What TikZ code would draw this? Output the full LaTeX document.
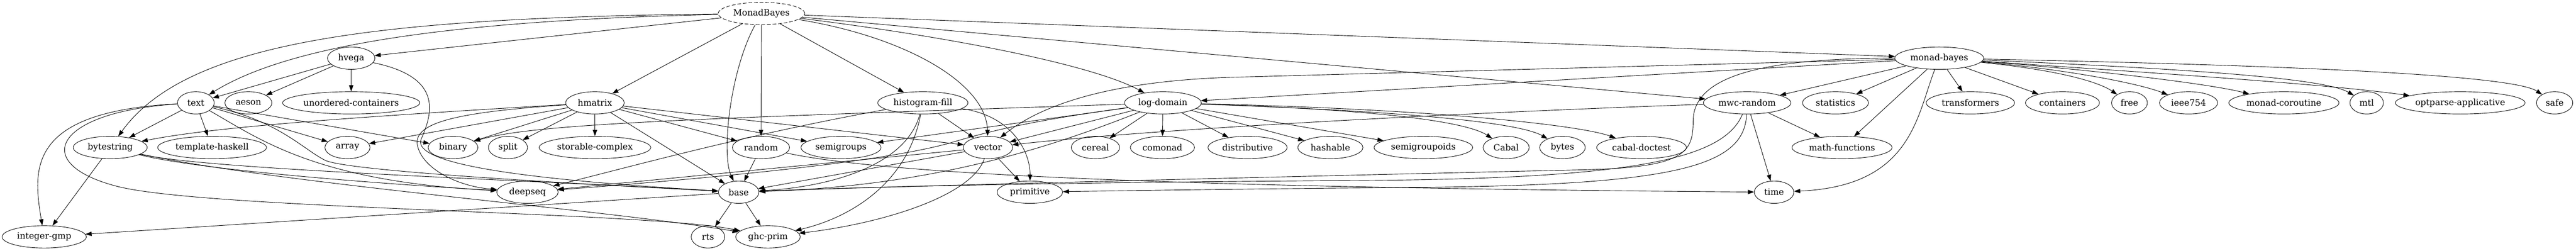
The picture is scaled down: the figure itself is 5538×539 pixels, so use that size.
\documentclass[tikz,border=0pt]{standalone}
\usepackage{fontspec}
\setmainfont{DejaVu Serif}
\usetikzlibrary{shapes.geometric,arrows.meta}

\begin{document}
\begin{tikzpicture}[x=0.75pt,y=-0.75pt,
  pkg/.style={draw, ellipse, line width=0.75pt, inner sep=0pt, minimum height=36pt, font=\fontsize{14pt}{16pt}\selectfont},
  rootpkg/.style={pkg, dash pattern=on 6pt off 3pt},
  dep/.style={line width=0.75pt, -{Triangle[length=10pt,width=7pt]}}]

\useasboundingbox (0,0) rectangle (5538,539);

 % rank 0 and 1
 \node[rootpkg, minimum width=139.5pt] (MonadBayes) at (1637,29) {MonadBayes};
 \node[pkg, minimum width=76.5pt] (hvega) at (755,125) {hvega};
 \node[pkg, minimum width=143.25pt] (monadbayes) at (4169,125) {monad-bayes};

 % rank 2
 \node[pkg, minimum width=59.25pt] (text) at (421,221) {text};
 \node[pkg, minimum width=75.75pt] (aeson) at (534,221) {aeson};
 \node[pkg, minimum width=221.25pt] (unordered) at (755,221) {unordered-containers};
 \node[pkg, minimum width=94.5pt] (hmatrix) at (1279,221) {hmatrix};
 \node[pkg, minimum width=145.5pt] (histogram) at (1984,221) {histogram-fill};
 \node[pkg, minimum width=123.75pt] (logdomain) at (2500,221) {log-domain};
 \node[pkg, minimum width=141pt] (mwcrandom) at (3756,221) {mwc-random};
 \node[pkg, minimum width=106.5pt] (statistics) at (3946,221) {statistics};
 \node[pkg, minimum width=142.5pt] (transformers) at (4236,221) {transformers};
 \node[pkg, minimum width=119.25pt] (containers) at (4434,221) {containers};
 \node[pkg, minimum width=57.75pt] (free) at (4578,221) {free};
 \node[pkg, minimum width=93.75pt] (ieee) at (4705,221) {ieee754};
 \node[pkg, minimum width=177.75pt] (coroutine) at (4910,221) {monad-coroutine};
 \node[pkg, minimum width=54pt] (mtl) at (5088,221) {mtl};
 \node[pkg, minimum width=209.25pt] (optparse) at (5289,221) {optparse-applicative};
 \node[pkg, minimum width=58.5pt] (safe) at (5492,221) {safe};

 % rank 3
 \node[pkg, minimum width=119.25pt] (bytestring) at (237,317) {bytestring};
 \node[pkg, minimum width=175.5pt] (template) at (456,317) {template-haskell};
 \node[pkg, minimum width=72.75pt] (array) at (747,317) {array};
 \node[pkg, minimum width=80.25pt] (binary) at (974,317) {binary};
 \node[pkg, minimum width=63pt] (split) at (1092,317) {split};
 \node[pkg, minimum width=180pt] (storable) at (1279,317) {storable-complex};
 \node[pkg, minimum width=92.25pt] (random) at (1636,317) {random};
 \node[pkg, minimum width=129pt] (semigroups) at (1808,317) {semigroups};
 \node[pkg, minimum width=79.5pt] (vector) at (2124,317) {vector};
 \node[pkg, minimum width=78pt] (cereal) at (2355,317) {cereal};
 \node[pkg, minimum width=103.5pt] (comonad) at (2499,317) {comonad};
 \node[pkg, minimum width=127.5pt] (distributive) at (2682,317) {distributive};
 \node[pkg, minimum width=105pt] (hashable) at (2860,317) {hashable};
 \node[pkg, minimum width=159pt] (semigroupoids) at (3060,317) {semigroupoids};
 \node[pkg, minimum width=74.25pt] (Cabal) at (3238,317) {Cabal};
 \node[pkg, minimum width=73.5pt] (bytes) at (3359,317) {bytes};
 \node[pkg, minimum width=144.75pt] (cabaldoctest) at (3529,317) {cabal-doctest};
 \node[pkg, minimum width=161.25pt] (mathfunctions) at (3960,317) {math-functions};

 % rank 4 and 5
 \node[pkg, minimum width=99pt] (deepseq) at (1134,413) {deepseq};
 \node[pkg, minimum width=65.25pt] (base) at (1588,413) {base};
 \node[pkg, minimum width=105.75pt] (primitive) at (2214,413) {primitive};
 \node[pkg, minimum width=63.75pt] (time) at (3814,413) {time};
 \node[pkg, minimum width=135.75pt] (integer) at (95,509) {integer-gmp};
 \node[pkg, minimum width=54pt] (rts) at (1522,509) {rts};
 \node[pkg, minimum width=104.25pt] (ghcprim) at (1651,509) {ghc-prim};

 % MonadBayes
 \draw[dep] (MonadBayes) -- (hvega);
 \draw[dep] (MonadBayes) .. controls (900,45) and (600,110) .. (text);
 \draw[dep] (MonadBayes) .. controls (800,38) and (400,90) .. (bytestring);
 \draw[dep] (MonadBayes) -- (hmatrix);
 \draw[dep] (MonadBayes) .. controls (1570,150) and (1550,330) .. (base);
 \draw[dep] (MonadBayes) -- (random);
 \draw[dep] (MonadBayes) -- (histogram);
 \draw[dep] (MonadBayes) .. controls (1950,80) and (2120,180) .. (vector);
 \draw[dep] (MonadBayes) .. controls (2050,80) and (2350,140) .. (logdomain);
 \draw[dep] (MonadBayes) -- (mwcrandom);
 \draw[dep] (MonadBayes) -- (monadbayes);

 % hvega
 \draw[dep] (hvega) -- (text);
 \draw[dep] (hvega) -- (aeson);
 \draw[dep] (hvega) -- (unordered);
 \draw[dep] (hvega) .. controls (950,165) and (932,240) .. (905,300) .. controls (885,360) and (1200,390) .. (base);

 % text
 \draw[dep] (text) -- (bytestring);
 \draw[dep] (text) -- (template);
 \draw[dep] (text) -- (array);
 \draw[dep] (text) -- (binary);
 \draw[dep] (text) .. controls (560,300) and (680,390) .. (deepseq);
 \draw[dep] (text) .. controls (600,260) and (650,320) .. (700,345) .. controls (760,370) and (1300,398) .. (base);
 \draw[dep] (text) .. controls (60,240) and (70,360) .. (integer);
 \draw[dep] (text) .. controls (120,240) and (60,350) .. (250,400) .. controls (440,450) and (1400,455) .. (ghcprim);

 % bytestring
 \draw[dep] (bytestring) -- (integer);
 \draw[dep] (bytestring) .. controls (450,370) and (900,400) .. (deepseq);
 \draw[dep] (bytestring) .. controls (450,365) and (1100,385) .. (base);
 \draw[dep] (bytestring) .. controls (600,395) and (1300,450) .. (ghcprim);

 % hmatrix
 \draw[dep] (hmatrix) .. controls (700,255) and (450,275) .. (bytestring);
 \draw[dep] (hmatrix) .. controls (1000,240) and (890,260) .. (897,310) .. controls (905,360) and (980,400) .. (deepseq);
 \draw[dep] (hmatrix) -- (array);
 \draw[dep] (hmatrix) -- (binary);
 \draw[dep] (hmatrix) -- (split);
 \draw[dep] (hmatrix) -- (storable);
 \draw[dep] (hmatrix) -- (base);
 \draw[dep] (hmatrix) -- (random);
 \draw[dep] (hmatrix) -- (semigroups);
 \draw[dep] (hmatrix) -- (vector);

 % histogram-fill
 \draw[dep] (histogram) .. controls (1600,290) and (1350,360) .. (deepseq);
 \draw[dep] (histogram) .. controls (1950,350) and (1800,400) .. (base);
 \draw[dep] (histogram) .. controls (1950,400) and (1820,470) .. (ghcprim);
 \draw[dep] (histogram) -- (vector);
 \draw[dep] (histogram) .. controls (2180,250) and (2215,330) .. (primitive);

 % log-domain
 \draw[dep] (logdomain) .. controls (1500,255) and (1150,265) .. (binary);
 \draw[dep] (logdomain) -- (semigroups);
 \draw[dep] (logdomain) .. controls (2250,255) and (2150,275) .. (2050,305) .. controls (1900,350) and (1500,385) .. (deepseq);
 \draw[dep] (logdomain) -- (vector);
 \draw[dep] (logdomain) .. controls (2250,320) and (2000,400) .. (base);
 \draw[dep] (logdomain) -- (cereal);
 \draw[dep] (logdomain) -- (comonad);
 \draw[dep] (logdomain) -- (distributive);
 \draw[dep] (logdomain) -- (hashable);
 \draw[dep] (logdomain) -- (semigroupoids);
 \draw[dep] (logdomain) .. controls (2950,235) and (3150,260) .. (Cabal);
 \draw[dep] (logdomain) .. controls (3050,240) and (3270,265) .. (bytes);
 \draw[dep] (logdomain) .. controls (3100,235) and (3400,270) .. (cabaldoctest);

 % vector, random, base
 \draw[dep] (vector) -- (deepseq);
 \draw[dep] (vector) -- (base);
 \draw[dep] (vector) -- (primitive);
 \draw[dep] (vector) .. controls (2090,420) and (1900,480) .. (ghcprim);
 \draw[dep] (random) -- (base);
 \draw[dep] (random) .. controls (1950,385) and (2800,405) .. (time);
 \draw[dep] (base) -- (rts);
 \draw[dep] (base) -- (ghcprim);
 \draw[dep] (base) -- (integer);

 % mwc-random
 \draw[dep] (mwcrandom) .. controls (3200,240) and (2500,275) .. (vector);
 \draw[dep] (mwcrandom) -- (mathfunctions);
 \draw[dep] (mwcrandom) -- (time);
 \draw[dep] (mwcrandom) .. controls (3705,345) and (3500,385) .. (2900,388) .. controls (2300,392) and (1900,400) .. (base);
 \draw[dep] (mwcrandom) .. controls (3750,360) and (3600,400) .. (3000,403) .. controls (2600,407) and (2400,410) .. (primitive);

 % monad-bayes
 \draw[dep] (monadbayes) -- (2650,166) .. controls (2350,175) and (2220,240) .. (vector);
 \draw[dep] (monadbayes) -- (logdomain);
 \draw[dep] (monadbayes) .. controls (3800,125) and (3640,160) .. (3640,260) .. controls (3640,330) and (3620,360) .. (3400,365) .. controls (3000,374) and (1900,400) .. (base);
 \draw[dep] (monadbayes) -- (mwcrandom);
 \draw[dep] (monadbayes) -- (statistics);
 \draw[dep] (monadbayes) -- (mathfunctions);
 \draw[dep] (monadbayes) .. controls (4120,250) and (4110,400) .. (time);
 \draw[dep] (monadbayes) -- (transformers);
 \draw[dep] (monadbayes) -- (containers);
 \draw[dep] (monadbayes) .. controls (4420,150) and (4510,175) .. (free);
 \draw[dep] (monadbayes) .. controls (4450,150) and (4600,180) .. (ieee);
 \draw[dep] (monadbayes) .. controls (4500,150) and (4750,180) .. (coroutine);
 \draw[dep] (monadbayes) .. controls (4750,150) and (5000,170) .. (mtl);
 \draw[dep] (monadbayes) .. controls (4600,155) and (5000,180) .. (optparse);
 \draw[dep] (monadbayes) .. controls (4900,140) and (5400,160) .. (safe);

\end{tikzpicture}
\end{document}
